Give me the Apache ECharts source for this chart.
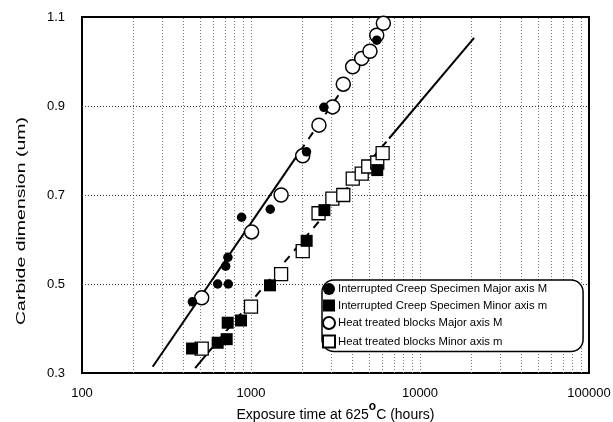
<!DOCTYPE html>
<html>
<head>
<meta charset="utf-8">
<script src="https://cdn.jsdelivr.net/npm/echarts@6/dist/echarts.min.js"></script>
<style>html,body{margin:0;padding:0;background:#fff}#c{width:613px;height:422px}</style>
</head>
<body>
<div id="c"></div>
<script>
// ---- data ----
const creepMajorX = [450, 635, 734, 708, 730, 880, 1300, 2130, 2700, 5550];
const creepMajorY = [0.46, 0.50, 0.50, 0.54, 0.56, 0.65, 0.668, 0.797, 0.897, 1.048];

const creepMinorX = [448, 635, 718, 728, 873, 1295, 2135, 2718, 5585];
const creepMinorY = [0.355, 0.368, 0.376, 0.413, 0.418, 0.497, 0.597, 0.666, 0.756];

const heatMajorX = [511, 1008, 1507, 2023, 2524, 3042, 3516, 3996, 4519, 5058, 5545, 6070];
const heatMajorY = [0.469, 0.617, 0.70, 0.788, 0.857, 0.898, 0.949, 0.988, 1.007, 1.023, 1.059, 1.086];

const heatMinorX = [511, 1000, 1507, 2023, 2510, 3030, 3516, 4000, 4520, 4940, 5585, 6010];
const heatMinorY = [0.355, 0.449, 0.522, 0.574, 0.659, 0.692, 0.70, 0.737, 0.748, 0.764, 0.773, 0.794];

// fitted trend lines (end points)
const majorFitSolidX = [262, 1950];
const majorFitSolidY = [0.314, 0.798];
const majorFitDashX = [1950, 3400];
const majorFitDashY = [0.798, 0.932];
const minorFitLowX = [467, 549];
const minorFitLowY = [0.311, 0.343];
const minorFitDashX = [549, 6560];
const minorFitDashY = [0.343, 0.827];
const minorFitHighX = [6560, 20900];
const minorFitHighY = [0.827, 1.053];

const xGridValues = [200,300,400,500,600,700,800,900,1000,2000,3000,4000,5000,6000,7000,8000,9000,10000,20000,30000,40000,50000,60000,70000,80000,90000];
const yGridValues = [0.5, 0.7, 0.9];

const names = [
  'Interrupted Creep Specimen Major axis M',
  'Interrupted Creep Specimen Minor axis m',
  'Heat treated blocks Major axis M',
  'Heat treated blocks Minor axis m'
];
const yTitle = 'Carbide dimension (um)';

const zip = (xs, ys) => xs.map((x, i) => [x, ys[i]]);
const FONT = 'Liberation Sans';

function lineSeries(xs, ys, dashed) {
  return {
    type: 'line', data: zip(xs, ys), symbol: 'none', silent: true,
    lineStyle: { color: '#000', width: 2, type: dashed ? [8, 7] : 'solid' },
    z: 2
  };
}

const chart = echarts.init(document.getElementById('c'), null, { renderer: 'canvas' });
chart.setOption({
  animation: false,
  backgroundColor: '#fff',
  textStyle: { fontFamily: FONT, color: '#000' },
  grid: {
    left: 82, right: 24, top: 17, bottom: 49, containLabel: false, outerBoundsMode: 'none',
    show: true, borderColor: '#000', borderWidth: 2, backgroundColor: 'transparent'
  },
  xAxis: {
    type: 'log', logBase: 10, min: 100, max: 100000,
    axisLine: { show: false }, axisTick: { show: false }, splitLine: { show: false },
    axisLabel: { fontSize: 13, color: '#000', margin: 14, fontFamily: FONT, formatter: v => String(Math.round(v)) },
    name: '{a|Exposure time at 625}{s|o}{a|C (hours)}',
    nameLocation: 'middle', nameGap: 28, nameMoveOverlap: false,
    nameTextStyle: {
      rich: {
        a: { fontSize: 14, color: '#000', fontFamily: FONT, verticalAlign: 'bottom' },
        s: { fontSize: 12, color: '#000', fontFamily: FONT, fontWeight: 'bold', verticalAlign: 'top', padding: [0, 0, 9, 0] }
      }
    }
  },
  yAxis: {
    type: 'value', min: 0.3, max: 1.1, interval: 0.2,
    axisLine: { show: false }, axisTick: { show: false }, splitLine: { show: false },
    axisLabel: { fontSize: 13, color: '#000', margin: 17, fontFamily: FONT, formatter: v => v.toFixed(1) }
  },
  graphic: [{
    type: 'text', x: 21, y: 221, rotation: Math.PI / 2, scaleX: 1.5, silent: true,
    style: { text: yTitle, font: '13px "Liberation Sans"', fill: '#000', align: 'center', verticalAlign: 'middle' }
  }],
  legend: {
    data: names, orient: 'vertical', left: 322, top: 280, z: 20,
    itemWidth: 12, itemHeight: 12, itemGap: 4.5,
    padding: [3, 36, 3, 0],
    backgroundColor: '#fff', borderColor: '#000', borderWidth: 1.5, borderRadius: 12,
    textStyle: { fontSize: 11.3, lineHeight: 12, color: '#000', fontFamily: FONT, padding: [0, 0, 0, -2] },
    selectedMode: false
  },
  series: [
    Object.assign(lineSeries(majorFitSolidX, majorFitSolidY, false), {
      markLine: {
        silent: true, symbol: 'none', label: { show: false }, animation: false, z: 1,
        lineStyle: { color: '#777', type: [1, 2], width: 1 },
        data: xGridValues.map(v => ({ xAxis: v })).concat(yGridValues.map(v => ({ yAxis: v, lineStyle: { color: '#333', type: [1, 2], width: 1 } })))
      }
    }),
    lineSeries(majorFitDashX, majorFitDashY, true),
    lineSeries(minorFitLowX, minorFitLowY, false),
    lineSeries(minorFitDashX, minorFitDashY, true),
    lineSeries(minorFitHighX, minorFitHighY, false),
    {
      name: names[2], type: 'scatter', data: zip(heatMajorX, heatMajorY),
      symbol: 'circle', symbolSize: 14, z: 3,
      itemStyle: { color: '#fff', borderColor: '#000', borderWidth: 1.5, opacity: 1 }
    },
    {
      name: names[3], type: 'scatter', data: zip(heatMinorX, heatMinorY),
      symbol: 'rect', symbolSize: 13, z: 3,
      itemStyle: { color: '#fff', borderColor: '#000', borderWidth: 1.3, opacity: 1 }
    },
    {
      name: names[0], type: 'scatter', data: zip(creepMajorX, creepMajorY),
      symbol: 'circle', symbolSize: 9.5, z: 4,
      itemStyle: { color: '#000', opacity: 1 }
    },
    {
      name: names[1], type: 'scatter', data: zip(creepMinorX, creepMinorY),
      symbol: 'rect', symbolSize: 12, z: 4,
      itemStyle: { color: '#000', opacity: 1 }
    }
  ]
});
</script>
</body>
</html>
